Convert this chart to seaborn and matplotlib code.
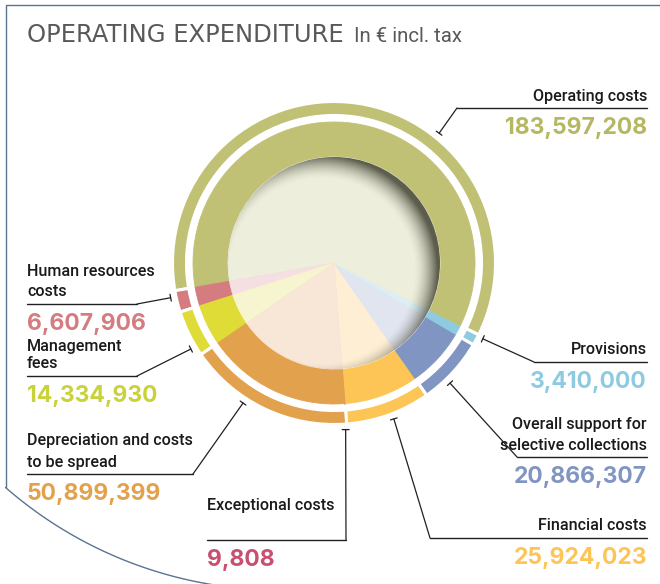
import numpy as np
import matplotlib
matplotlib.use('Agg')
from matplotlib import pyplot as plt
from matplotlib import font_manager
from matplotlib.patches import Circle
import seaborn as sns

sns.set_theme(style='white')

W, H = 660, 584

# data, in pie order (counter-clockwise starting at the bottom)
labels = ['Exceptional costs', 'Financial costs', 'Overall support for\nselective collections',
          'Provisions', 'Operating costs', 'Human resources\ncosts', 'Management\nfees',
          'Depreciation and costs\nto be spread']
values = [9808, 25924023, 20866307, 3410000, 183597208, 6607906, 14334930, 50899399]

ring_colors = ['#c4466f', '#fdc456', '#8195c2', '#8ecbe1', '#c1c176', '#d57c80', '#dfdc38', '#e2a14d']
pale_colors = ['#e9a9c4', '#feefd4', '#e1e5f0', '#dceff5', '#edeedc', '#f6dfe2', '#f6f5cf', '#f8e6d6']
value_colors = ['#c84f70', '#fdc456', '#8195c2', '#8ecbe1', '#b6b762', '#d57c80', '#c9d23a', '#e2a14d']

# label layout (image pixels): text x, alignment, underline y, leader join x, leader angle
text_x = [207, 647, 647, 647, 647, 27, 27, 27]
text_ha = ['left', 'right', 'right', 'right', 'right', 'left', 'left', 'left']
line_y = [540, 538, 457, 362, 108, 304, 376, 474]
join_x = [346, 430, 517, 534, 457, 137, 137, 193]
lead_ang = [-86, -69, -46, -27, 51, 192, 211, 237]
line_gap = [20, 20, 20, 20, 20, 20, 18, 21]
text_lift = [30, 7.5, 7.5, 7.5, 7.5, 7.5, 7.5, 7.5]

installed = {f.name for f in font_manager.fontManager.ttflist}


def pick(*names):
    for n in names:
        if n in installed:
            return n
    return 'DejaVu Sans'


narrow = pick('Liberation Sans Narrow', 'DejaVu Sans Condensed', 'Roboto')
num_font = pick('Inter', 'Lato', 'Open Sans')
plt.rcParams['font.family'] = ['DejaVu Sans']

fig = plt.figure(figsize=(W / 100, H / 100), dpi=100)
ax = fig.add_axes([0, 0, 1, 1])

cx, cy = 334, H - 263
r_pale, r_ring, r_out = 106, 141, 161.5

# strong ring
wedges, _ = ax.pie(values, radius=r_ring, center=(cx, cy), startangle=-85.5, counterclock=True,
                   colors=ring_colors, wedgeprops=dict(linewidth=0.6))
for w, c in zip(wedges, ring_colors):
    w.set_edgecolor(c)
    w.set_zorder(1)
wedges[0].set_linewidth(1.2)

# pale centre
wedges, _ = ax.pie(values, radius=r_pale, center=(cx, cy), startangle=-85.5, counterclock=True,
                   colors=pale_colors, wedgeprops=dict(linewidth=0.6))
for w, c in zip(wedges, pale_colors):
    w.set_edgecolor(c)
    w.set_zorder(2)
wedges[0].set_linewidth(1.0)

# thin outer ring
wedges, _ = ax.pie(values, radius=r_out, center=(cx, cy), startangle=-85.5, counterclock=True,
                   colors=ring_colors, wedgeprops=dict(width=14, edgecolor='white', linewidth=2.2))
for w in wedges:
    w.set_zorder(1)

ax.set_xlim(0, W)
ax.set_ylim(0, H)

# inner shadow of the centre disk
n = 320
g = np.linspace(-r_pale, r_pale, n)
gx, gy = np.meshgrid(g, g)
d = np.hypot(gx + 12, gy + 8)
alpha = np.clip((d - (r_pale - 14)) / 24, 0, 1) ** 1.7 * 0.82
shade = np.zeros((n, n, 4))
shade[..., 0] = 0.24
shade[..., 1] = 0.24
shade[..., 2] = 0.18
shade[..., 3] = alpha
clip = Circle((cx, cy), r_pale, transform=ax.transData)
im = ax.imshow(shade, extent=[cx - r_pale, cx + r_pale, cy - r_pale, cy + r_pale],
               origin='lower', zorder=3, interpolation='bilinear')
im.set_clip_path(clip)

# frame
border = '#5a7390'
ax.plot([W, 5.5, 5.5], [H - 4.5, H - 4.5, H - 487], color=border, lw=1.0, zorder=0,
        solid_joinstyle='miter')
th = np.radians(np.linspace(228.9, 268, 80))
ax.plot(279 + 416 * np.cos(th), (H - 174) + 416 * np.sin(th), color=border, lw=1.0, zorder=0)

ax.set_xlim(0, W)
ax.set_ylim(0, H)

# title
renderer = fig.canvas.get_renderer()
t = ax.text(27, H - 42.5, 'OPERATING EXPENDITURE', fontsize=17.5, color='#58595b', va='baseline')
bb = t.get_window_extent(renderer=renderer)
ax.text(bb.x1 + 10, H - 42.5, 'In € incl. tax', fontsize=14.7, color='#58595b', va='baseline',
        family=narrow)

# labels, values and leaders
for i in range(len(values)):
    ly = H - line_y[i]
    rows = labels[i].split('\n')
    for k, row in enumerate(rows):
        ax.text(text_x[i], ly + text_lift[i] + (len(rows) - 1 - k) * line_gap[i], row, ha=text_ha[i],
                va='baseline', fontsize=11.6, fontweight='medium', color='#1a1a1a', family=narrow)
    ax.text(text_x[i], ly - 26, f'{values[i]:,}', ha=text_ha[i], va='baseline', fontsize=16.5,
            fontweight='bold', color=value_colors[i], family=num_font)
    ax.plot([text_x[i], join_x[i]], [ly, ly], color='#231f20', lw=1.0)
    a = np.radians(lead_ang[i])
    tip = (cx + 167 * np.cos(a), cy + 167 * np.sin(a))
    ax.annotate('', xy=tip, xytext=(join_x[i], ly),
                arrowprops=dict(arrowstyle='-[, widthB=0.25, lengthB=0', color='#231f20', lw=0.9,
                                shrinkA=0, shrinkB=0, mutation_scale=10))

ax.set_xlim(0, W)
ax.set_ylim(0, H)
ax.axis('off')
fig.savefig('out.png', dpi=100)
